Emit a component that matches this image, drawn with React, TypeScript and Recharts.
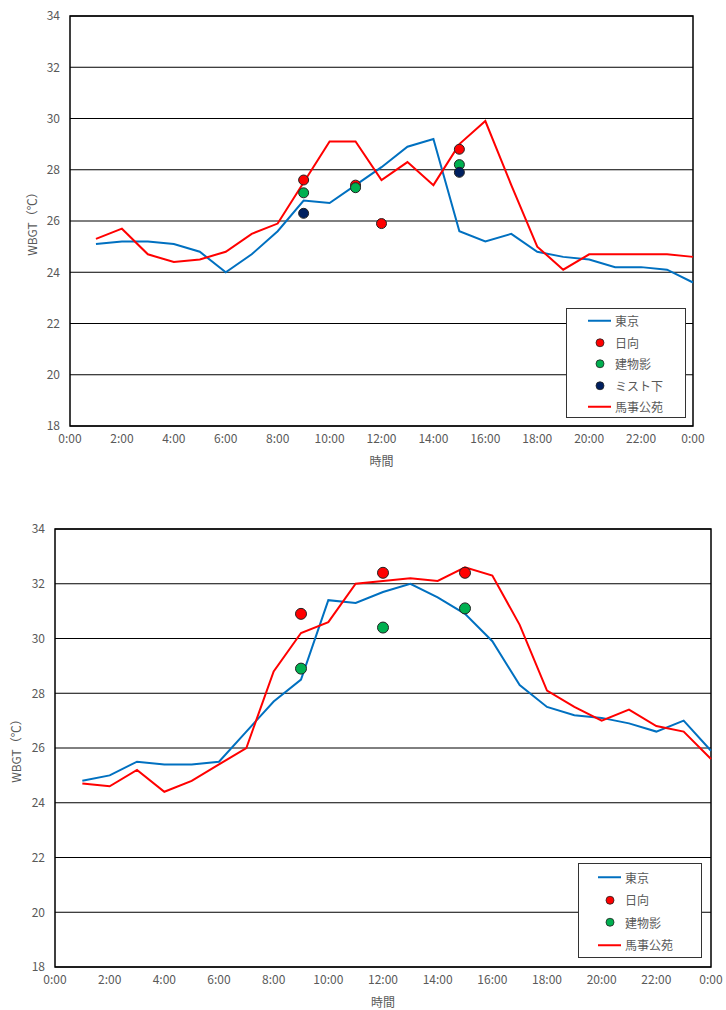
import { ComposedChart, Line, XAxis, YAxis, CartesianGrid, Legend, ReferenceArea } from 'recharts';

const hours = [1, 2, 3, 4, 5, 6, 7, 8, 9, 10, 11, 12, 13, 14, 15, 16, 17, 18, 19, 20, 21, 22, 23, 24];
const hourTicks = [0, 2, 4, 6, 8, 10, 12, 14, 16, 18, 20, 22, 24];
const wbgtTicks = [18, 20, 22, 24, 26, 28, 30, 32, 34];

// first chart
const tokyo1 = [25.1, 25.2, 25.2, 25.1, 24.8, 24.0, 24.7, 25.6, 26.8, 26.7, 27.4, 28.1, 28.9, 29.2, 25.6, 25.2, 25.5, 24.8, 24.6, 24.5, 24.2, 24.2, 24.1, 23.6];
const baji1 = [25.3, 25.7, 24.7, 24.4, 24.5, 24.8, 25.5, 25.9, 27.5, 29.1, 29.1, 27.6, 28.3, 27.4, 29.0, 29.9, 27.4, 25.0, 24.1, 24.7, 24.7, 24.7, 24.7, 24.6];
const spotHours1 = [9, 11, 12, 15];
const hinata1 = [27.6, 27.4, 25.9, 28.8];
const kage1 = [27.1, 27.3, null, 28.2];
const mist1 = [26.3, null, null, 27.9];

// second chart
const tokyo2 = [24.8, 25.0, 25.5, 25.4, 25.4, 25.5, 26.6, 27.7, 28.5, 31.4, 31.3, 31.7, 32.0, 31.5, 30.9, 29.9, 28.3, 27.5, 27.2, 27.1, 26.9, 26.6, 27.0, 25.9];
const baji2 = [24.7, 24.6, 25.2, 24.4, 24.8, 25.4, 26.0, 28.8, 30.2, 30.6, 32.0, 32.1, 32.2, 32.1, 32.6, 32.3, 30.5, 28.1, 27.5, 27.0, 27.4, 26.8, 26.6, 25.6];
const spotHours2 = [9, 12, 15];
const hinata2 = [30.9, 32.4, 32.4];
const kage2 = [28.9, 30.4, 31.1];

const seriesStyle = {
  tokyo: { name: '東京', color: '#0070C0', kind: 'line' },
  hinata: { name: '日向', color: '#FF0000', kind: 'dot' },
  kage: { name: '建物影', color: '#00B050', kind: 'dot' },
  mist: { name: 'ミスト下', color: '#002060', kind: 'dot' },
  baji: { name: '馬事公苑', color: '#FF0000', kind: 'line' },
};

const font = "'Noto Sans CJK JP', sans-serif";
const tickStyle = { fill: '#595959', fontSize: 12, fontFamily: font };

function spotValue(spotHours: number[], values: (number | null)[] | undefined, h: number) {
  if (!values) return null;
  const i = spotHours.indexOf(h);
  return i < 0 ? null : values[i];
}

function buildRows(tokyo: number[], baji: number[], spotHours: number[], hinata: (number | null)[], kage: (number | null)[], mist?: (number | null)[]) {
  return hours.map((h, i) => ({
    hour: h,
    tokyo: tokyo[i],
    baji: baji[i],
    hinata: spotValue(spotHours, hinata, h),
    kage: spotValue(spotHours, kage, h),
    mist: spotValue(spotHours, mist, h),
  }));
}

function LegendBox({ keys, width, height, rowH, padTop, iconX }: any) {
  return (
    <div style={{ width, height, boxSizing: 'border-box', border: '1px solid #333', background: '#fff', paddingTop: padTop, fontFamily: font, fontSize: 12, color: '#595959' }}>
      {keys.map((k: string) => {
        const s = (seriesStyle as any)[k];
        return (
          <div key={k} style={{ height: rowH, display: 'flex', alignItems: 'center' }}>
            <svg width={iconX + 27} height={rowH} style={{ flex: 'none' }}>
              {s.kind === 'line' ? (
                <line x1={iconX} x2={iconX + 23} y1={rowH / 2} y2={rowH / 2} stroke={s.color} strokeWidth={2} />
              ) : (
                <circle cx={iconX + 12} cy={rowH / 2} r={4} fill={s.color} stroke="#222" strokeWidth={0.8} />
              )}
            </svg>
            <span>{s.name}</span>
          </div>
        );
      })}
    </div>
  );
}

const dotSeries = (key: string, r: number) => {
  const s = (seriesStyle as any)[key];
  return (
    <Line
      key={key}
      dataKey={key}
      name={s.name}
      stroke="none"
      legendType="circle"
      dot={{ r, fill: s.color, stroke: '#222', strokeWidth: 1 }}
      activeDot={false}
      isAnimationActive={false}
    />
  );
};

function WbgtChart({ rows, spotKeys, width, height, margin, yWidth, yLabelDx, xHeight, xLabelOffset, legendPos, legendBox, dotR }: any) {
  return (
    <ComposedChart width={width} height={height} data={rows} margin={margin}>
      <CartesianGrid vertical={false} stroke="#000" strokeWidth={1} />
      <ReferenceArea x1={0} x2={24} y1={18} y2={34} fill="none" stroke="#000" strokeWidth={1.5} ifOverflow="visible" />
      <XAxis
        dataKey="hour"
        type="number"
        domain={[0, 24]}
        ticks={hourTicks}
        tickFormatter={(h: number) => `${h % 24}:00`}
        tick={tickStyle}
        tickLine={false}
        axisLine={false}
        interval={0}
        height={xHeight}
        label={{ value: '時間', position: 'insideBottom', offset: xLabelOffset, style: { fill: '#595959', fontSize: 12, fontFamily: font } }}
      />
      <YAxis
        type="number"
        domain={[18, 34]}
        ticks={wbgtTicks}
        tick={tickStyle}
        tickLine={false}
        axisLine={false}
        tickMargin={4}
        width={yWidth}
        interval={0}
        label={{ value: 'WBGT（℃）', angle: -90, position: 'center', dx: yLabelDx, style: { fill: '#595959', fontSize: 12, fontFamily: font } }}
      />
      <Line dataKey="tokyo" name="東京" stroke={seriesStyle.tokyo.color} strokeWidth={2} dot={false} activeDot={false} isAnimationActive={false} />
      <Line dataKey="baji" name="馬事公苑" stroke={seriesStyle.baji.color} strokeWidth={2} dot={false} activeDot={false} isAnimationActive={false} />
      {spotKeys.map((k: string) => dotSeries(k, dotR))}
      <Legend
        layout="vertical"
        align="center"
        verticalAlign="middle"
        wrapperStyle={{ left: legendPos.left, top: legendPos.top, width: 'auto' }}
        content={() => <LegendBox {...legendBox} />}
      />
    </ComposedChart>
  );
}

export default function App() {
  const rows1 = buildRows(tokyo1, baji1, spotHours1, hinata1, kage1, mist1);
  const rows2 = buildRows(tokyo2, baji2, spotHours2, hinata2, kage2);
  return (
    <div style={{ position: 'absolute', left: 0, top: 0, width: 726, height: 1010, background: '#fff' }}>
      <div style={{ position: 'absolute', left: 0, top: 0 }}>
        <WbgtChart
          rows={rows1}
          spotKeys={['hinata', 'kage', 'mist']}
          width={726}
          height={475}
          margin={{ top: 16, right: 33, bottom: 5, left: 20 }}
          yWidth={50}
          yLabelDx={-12}
          xHeight={44}
          xLabelOffset={4}
          dotR={5}
          legendPos={{ left: 566, top: 308 }}
          legendBox={{ keys: ['tokyo', 'hinata', 'kage', 'mist', 'baji'], width: 120, height: 110, rowH: 21.5, padTop: 1, iconX: 21 }}
        />
      </div>
      <div style={{ position: 'absolute', left: 0, top: 475 }}>
        <WbgtChart
          rows={rows2}
          spotKeys={['hinata', 'kage']}
          width={726}
          height={535}
          margin={{ top: 54, right: 15, bottom: 0, left: 7 }}
          yWidth={48}
          yLabelDx={-14}
          xHeight={43}
          xLabelOffset={3}
          dotR={5.5}
          legendPos={{ left: 578, top: 388 }}
          legendBox={{ keys: ['tokyo', 'hinata', 'kage', 'baji'], width: 124, height: 95, rowH: 22.5, padTop: 2, iconX: 19 }}
        />
      </div>
    </div>
  );
}
